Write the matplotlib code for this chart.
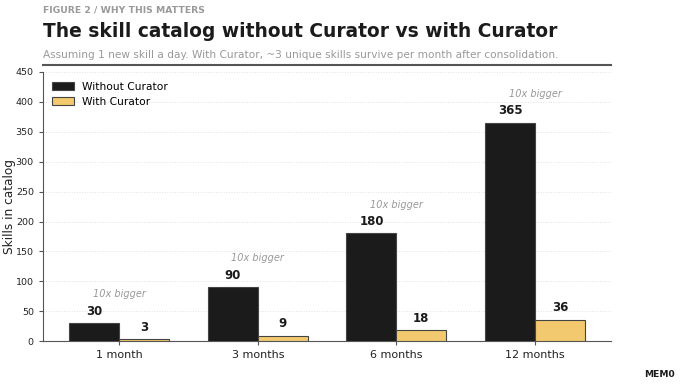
import matplotlib.pyplot as plt
import numpy as np

periods = ["1 month", "3 months", "6 months", "12 months"]
without_curator = [30, 90, 180, 365]
with_curator = [3, 9, 18, 36]
ratio_label = "10x bigger"

DARK = "#1b1b1b"
GOLD = "#f2c96e"
GREY = "#999999"


def main():
    fig = plt.figure(figsize=(6.8, 3.85), dpi=100)
    ax = fig.add_axes([0.063, 0.114, 0.836, 0.699])

    x = np.arange(len(periods))
    w = 0.36
    ax.bar(x - w / 2, without_curator, w, color=DARK, edgecolor="#444444",
           linewidth=0.8, label="Without Curator", zorder=3)
    ax.bar(x + w / 2, with_curator, w, color=GOLD, edgecolor="#444444",
           linewidth=0.8, label="With Curator", zorder=3)

    for i in range(len(periods)):
        ax.annotate(str(without_curator[i]), (x[i] - w / 2, without_curator[i]),
                    xytext=(0, 4), textcoords="offset points", ha="center",
                    va="bottom", fontsize=8.5, fontweight="bold", color=DARK)
        ax.annotate(str(with_curator[i]), (x[i] + w / 2, with_curator[i]),
                    xytext=(0, 4), textcoords="offset points", ha="center",
                    va="bottom", fontsize=8.5, fontweight="bold", color=DARK)
        ax.text(x[i], without_curator[i] + 40, ratio_label, ha="center",
                va="bottom", fontsize=7, style="italic", color=GREY)

    ax.set_xlim(-0.55, 3.55)
    ax.set_ylim(0, 450)
    ax.set_yticks(range(0, 451, 50))
    ax.set_xticks(x)
    ax.set_xticklabels(periods, fontsize=8)
    ax.tick_params(axis="y", labelsize=6.8, colors="#222222")
    ax.tick_params(axis="x", colors="#222222")
    ax.tick_params(length=3, color="#555555")
    ax.set_ylabel("Skills in catalog", fontsize=8.7, color="#222222")
    ax.yaxis.set_label_coords(-0.048, 0.5)
    ax.grid(axis="y", linestyle=":", color="#e2e2e2", linewidth=0.7, zorder=0)
    for s in ["top", "right"]:
        ax.spines[s].set_visible(False)
    for s in ["left", "bottom"]:
        ax.spines[s].set_color("#555555")
    ax.legend(loc="upper left", frameon=False, fontsize=7.7,
              bbox_to_anchor=(0.0, 1.0))

    fig.text(0.063, 0.973, "FIGURE 2 / WHY THIS MATTERS", fontsize=6.7,
             fontweight="bold", color=GREY, va="center")
    fig.text(0.063, 0.918, "The skill catalog without Curator vs with Curator",
             fontsize=13.4, fontweight="bold", color=DARK, va="center")
    fig.text(0.063, 0.858, "Assuming 1 new skill a day. With Curator, ~3 unique skills "
             "survive per month after consolidation.", fontsize=7.6, color=GREY,
             va="center")
    fig.add_artist(plt.Line2D([0.063, 0.899], [0.83, 0.83], color="#555555",
                              linewidth=1.5))
    fig.text(0.993, 0.028, "MEM0", fontsize=6.6, fontweight="bold", color=DARK,
             ha="right", va="center")

    fig.savefig("out.png", dpi=100)


if __name__ == "__main__":
    main()
